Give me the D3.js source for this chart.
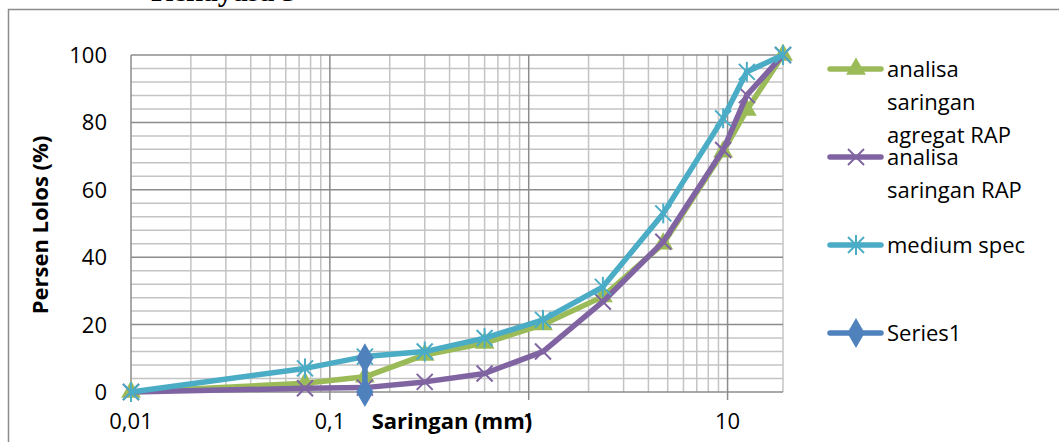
<!DOCTYPE html>
<html>
<head>
<meta charset="utf-8">
<script src="https://cdn.jsdelivr.net/npm/d3@7"></script>
<style>
  body { margin: 0; background: #fff; }
  text { font-family: "Open Sans", sans-serif; fill: #000; }
</style>
</head>
<body>
<script>
// sieve sizes (mm)
var sieves = [0.01, 0.075, 0.15, 0.3, 0.6, 1.18, 2.36, 4.75, 9.5, 12.5, 19];

var agregatRAP = [0, 2.6, 4.5, 11, 14.5, 20, 28.3, 44, 71.3, 83.7, 100];
var saringanRAP = [0, 1.1, 1.3, 3, 5.5, 12, 26.8, 44.6, 71.8, 88.1, 100];
var mediumSpec = [0, 7, 10.5, 12, 16, 21.4, 31.2, 53, 81.2, 95, 100];
var series1X = [0.15, 0.15];
var series1Y = [10, 0];

var xTicks = [0.01, 0.1, 1, 10];
var xTickLabels = ["0,01", "0,1", "1", "10"];
var yTicks = [0, 20, 40, 60, 80, 100];

var width = 1059, height = 442;

var svg = d3.select("body").append("svg")
    .attr("width", width)
    .attr("height", height);

var x = d3.scaleLog()
    .domain([0.01, 19])
    .range([131, 783]);

var y = d3.scaleLinear()
    .domain([0, 100])
    .range([392, 55]);

// cut-off heading from the document above the chart
svg.append("text")
    .attr("x", 151)
    .attr("y", 1)
    .style("font-family", "'Liberation Serif', serif")
    .style("font-weight", "bold")
    .style("font-size", "30px")
    .text("Rekayasa 3");

// chart frame
svg.append("rect")
    .attr("x", 8.5)
    .attr("y", 9.5)
    .attr("width", 1100)
    .attr("height", 500)
    .attr("fill", "none")
    .attr("stroke", "#8c8c8c")
    .attr("stroke-width", 1.5);

// minor grid
var minorX = [];
[0.01, 0.1, 1, 10].forEach(function(p) {
  for (var k = 2; k <= 9; k++) {
    if (p * k <= 19) minorX.push(p * k);
  }
});
minorX.push(19);
var minorY = d3.range(0, 101, 4).filter(function(v) { return v % 20 != 0; });

var grid = svg.append("g");

grid.selectAll(".minx")
    .data(minorX)
  .enter().append("line")
    .attr("x1", function(d) { return x(d); })
    .attr("x2", function(d) { return x(d); })
    .attr("y1", y(0))
    .attr("y2", y(100))
    .attr("stroke", "#c4c4c4")
    .attr("stroke-width", 1.5);

grid.selectAll(".miny")
    .data(minorY)
  .enter().append("line")
    .attr("x1", x(0.01))
    .attr("x2", x(19))
    .attr("y1", function(d) { return y(d); })
    .attr("y2", function(d) { return y(d); })
    .attr("stroke", "#c4c4c4")
    .attr("stroke-width", 1.5);

grid.selectAll(".majy")
    .data(yTicks)
  .enter().append("line")
    .attr("x1", x(0.01))
    .attr("x2", x(19))
    .attr("y1", function(d) { return y(d); })
    .attr("y2", function(d) { return y(d); })
    .attr("stroke", "#8c8c8c")
    .attr("stroke-width", 1.5);

grid.selectAll(".majx")
    .data(xTicks)
  .enter().append("line")
    .attr("x1", function(d) { return x(d); })
    .attr("x2", function(d) { return x(d); })
    .attr("y1", y(100))
    .attr("y2", y(0) + 8)
    .attr("stroke", "#8c8c8c")
    .attr("stroke-width", 1.5);

// tick labels
svg.selectAll(".ylab")
    .data(yTicks)
  .enter().append("text")
    .attr("x", 107)
    .attr("y", function(d) { return y(d); })
    .attr("dy", "0.36em")
    .style("text-anchor", "end")
    .style("font-size", "22px")
    .text(function(d) { return d; });

svg.selectAll(".xlab")
    .data(xTicks)
  .enter().append("text")
    .attr("x", function(d) { return x(d); })
    .attr("y", 429)
    .style("text-anchor", "middle")
    .style("font-size", "22px")
    .text(function(d, i) { return xTickLabels[i]; });

// axis titles
svg.append("text")
    .attr("transform", "translate(48,225) rotate(-90)")
    .style("text-anchor", "middle")
    .style("font-size", "22px")
    .style("font-weight", "bold")
    .text("Persen Lolos (%)");

svg.append("text")
    .attr("x", 452)
    .attr("y", 429)
    .style("text-anchor", "middle")
    .style("font-size", "22px")
    .style("font-weight", "bold")
    .text("Saringan (mm)");

// series
var line = d3.line()
    .x(function(d) { return x(d[0]); })
    .y(function(d) { return y(d[1]); });

function drawMarker(g, type, color) {
  if (type == "tri") {
    g.append("path").attr("d", d3.symbol(d3.symbolTriangle, 170)()).attr("fill", color);
  } else if (type == "diamond") {
    g.append("path").attr("d", d3.symbol(d3.symbolDiamond, 260)()).attr("fill", color);
  } else {
    var s = 8;
    g.append("line").attr("x1", -s).attr("y1", -s).attr("x2", s).attr("y2", s)
        .attr("stroke", color).attr("stroke-width", 2);
    g.append("line").attr("x1", -s).attr("y1", s).attr("x2", s).attr("y2", -s)
        .attr("stroke", color).attr("stroke-width", 2);
    if (type == "star") {
      g.append("line").attr("x1", 0).attr("y1", -s - 2).attr("x2", 0).attr("y2", s + 2)
          .attr("stroke", color).attr("stroke-width", 2);
    }
  }
}

var series = [
  {name: "analisa saringan agregat RAP", lines: ["analisa", "saringan", "agregat RAP"], xs: sieves, ys: agregatRAP, color: "#9bbb59", marker: "tri", ly: 69},
  {name: "analisa saringan RAP", lines: ["analisa", "saringan RAP"], xs: sieves, ys: saringanRAP, color: "#8064a2", marker: "x", ly: 157},
  {name: "medium spec", lines: ["medium spec"], xs: sieves, ys: mediumSpec, color: "#4bacc6", marker: "star", ly: 245},
  {name: "Series1", lines: ["Series1"], xs: series1X, ys: series1Y, color: "#4f81bd", marker: "diamond", ly: 333}
];

series.forEach(function(s) {
  var pts = s.xs.map(function(v, i) { return [v, s.ys[i]]; });
  svg.append("path")
      .datum(pts)
      .attr("d", line)
      .attr("fill", "none")
      .attr("stroke", s.color)
      .attr("stroke-width", 5.5)
      .attr("stroke-linejoin", "round");
  pts.forEach(function(p) {
    var g = svg.append("g")
        .attr("transform", "translate(" + x(p[0]) + "," + y(p[1]) + ")");
    drawMarker(g, s.marker, s.color);
  });
});

// legend
series.forEach(function(s) {
  var lg = svg.append("g").attr("class", "legend");
  lg.append("line")
      .attr("x1", 830).attr("x2", 881)
      .attr("y1", s.ly).attr("y2", s.ly)
      .attr("stroke", s.color)
      .attr("stroke-width", 5.5)
      .attr("stroke-linecap", "round");
  var g = lg.append("g").attr("transform", "translate(856," + s.ly + ")");
  drawMarker(g, s.marker, s.color);
  s.lines.forEach(function(t, i) {
    lg.append("text")
        .attr("x", 887)
        .attr("y", s.ly + i * 33)
        .attr("dy", "0.36em")
        .style("font-size", "22px")
        .text(t);
  });
});
</script>
</body>
</html>
